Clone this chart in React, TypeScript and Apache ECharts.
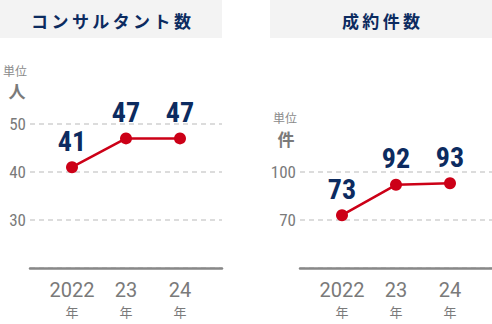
import React, { useEffect, useRef } from "react";
import * as echarts from "echarts";

const years = ["2022", "23", "24"];
const yearSuffix = "年";
const consultants = [41, 47, 47];
const contracts = [73, 92, 93];
const leftTitle = "コンサルタント数";
const rightTitle = "成約件数";
const leftUnit = "人";
const rightUnit = "件";
const unitCaption = "単位";
const leftRange = [20, 50, 10];
const rightRange = [40, 100, 30];

const NAVY = "#0c2b60";
const RED = "#cc0017";
const GRAY = "#7a7a7a";
const NUM_FONT = "'Roboto Condensed', 'Liberation Sans Narrow', 'DejaVu Sans Condensed', Roboto, sans-serif";
const JP_FONT = "'Noto Sans CJK JP', sans-serif";

function spaced(s: string) {
  return s.split("").join("\u2009");
}

export default function App() {
  const ref = useRef<HTMLDivElement>(null);
  useEffect(() => {
    if (!ref.current) return;
    const chart = echarts.init(ref.current, undefined, { renderer: "svg" });

    const frameY = (range: number[], idx: number) => ({
      type: "value",
      gridIndex: idx,
      min: range[0],
      max: range[1],
      interval: range[2],
      axisLine: { show: false },
      axisTick: { show: false },
      axisLabel: {
        showMinLabel: false,
        color: GRAY,
        fontSize: 17,
        fontFamily: NUM_FONT,
        margin: 4,
      },
      splitLine: { lineStyle: { color: "#dcdcdc", type: [5, 4], width: 2 } },
    });
    const hiddenY = (range: number[], idx: number) => ({
      type: "value",
      gridIndex: idx,
      min: range[0],
      max: range[1],
      interval: range[2],
      show: false,
      splitLine: { show: false },
    });
    const frameX = (idx: number) => ({
      type: "value",
      gridIndex: idx,
      min: 0,
      max: 1,
      axisLine: { show: true, onZero: false, lineStyle: { color: "#888", width: 2.5 } },
      axisTick: { show: false },
      axisLabel: { show: false },
      splitLine: { show: false },
    });
    const catX = (idx: number) => ({
      type: "category",
      gridIndex: idx,
      data: years,
      boundaryGap: false,
      axisLine: { show: false },
      axisTick: { show: false },
      splitLine: { show: false },
      axisLabel: {
        margin: 11,
        interval: 0,
        formatter: (v: string) => `{y|${v}}\n{n|${yearSuffix}}`,
        rich: {
          y: { fontSize: 20, lineHeight: 22, color: GRAY, fontFamily: "Roboto, sans-serif" },
          n: { fontSize: 13, lineHeight: 20, color: GRAY, fontFamily: JP_FONT },
        },
      },
    });
    const lineSeries = (data: number[], idx: number) => ({
      type: "line",
      xAxisIndex: idx,
      yAxisIndex: idx,
      data,
      symbol: "circle",
      symbolSize: 12,
      lineStyle: { color: RED, width: 2.5 },
      itemStyle: { color: RED },
      label: {
        show: true,
        position: "top",
        distance: 6,
        color: NAVY,
        fontSize: 28,
        fontWeight: "bold",
        fontFamily: NUM_FONT,
      },
    });

    const titleText = (text: string, x: number) => ({
      type: "text",
      x,
      y: 20,
      style: {
        text: spaced(text),
        fill: NAVY,
        font: `bold 17px ${JP_FONT}`,
        align: "center",
        verticalAlign: "middle",
      },
    });
    const unitText = (text: string, x: number, y: number, size: number, bold: boolean) => ({
      type: "text",
      x,
      y,
      style: {
        text,
        fill: bold ? "#7a7a7a" : "#8a8a8a",
        font: `${bold ? "bold " : ""}${size}px ${JP_FONT}`,
        lineHeight: size,
        align: "center",
        verticalAlign: "middle",
      },
    });

    chart.setOption({
      animation: false,
      grid: [
        { left: 30, width: 192, top: 124, height: 144 },
        { left: 72, width: 108, top: 124, height: 144 },
        { left: 300, width: 192, top: 172, height: 96 },
        { left: 342, width: 108, top: 172, height: 96 },
      ],
      xAxis: [frameX(0), catX(1), frameX(2), catX(3)],
      yAxis: [frameY(leftRange, 0), hiddenY(leftRange, 1), frameY(rightRange, 2), hiddenY(rightRange, 3)],
      series: [lineSeries(consultants, 1), lineSeries(contracts, 3)],
      graphic: [
        { type: "rect", shape: { x: 0, y: 0, width: 222, height: 38 }, style: { fill: "#f3f3f3" } },
        { type: "rect", shape: { x: 270, y: 0, width: 222, height: 38 }, style: { fill: "#f3f3f3" } },
        titleText(leftTitle, 111),
        titleText(rightTitle, 381),
        unitText(unitCaption, 15, 70.5, 12, false),
        unitText(leftUnit, 17, 90, 17, true),
        unitText(unitCaption, 285, 117.5, 12, false),
        unitText(rightUnit, 286, 138, 17, true),
      ],
    });
    return () => chart.dispose();
  }, []);
  return (
    <div
      ref={ref}
      style={{ position: "fixed", left: 0, top: 0, width: 492, height: 324, background: "#fff" }}
    />
  );
}
